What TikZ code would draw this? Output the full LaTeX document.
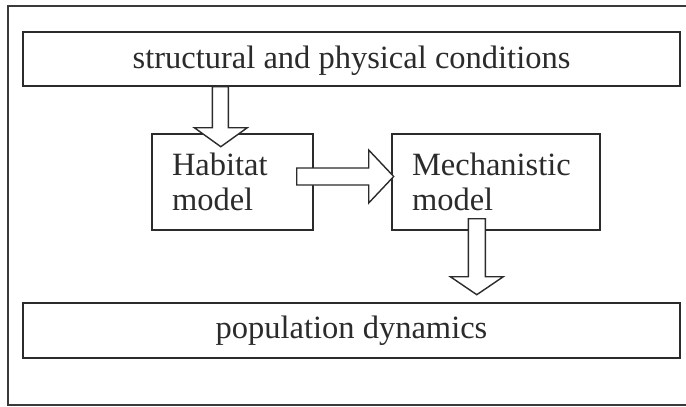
\documentclass[tikz,border=0pt]{standalone}
\usepackage{fontspec}
\setmainfont{Liberation Serif}
\usetikzlibrary{calc}
\definecolor{ink}{HTML}{2B2B2B}
\definecolor{framec}{HTML}{3A3A3A}
\tikzset{
  box/.style={draw=ink, line width=1.4pt, rectangle, inner sep=0pt, text=ink, font=\fontsize{32.5}{35}\selectfont},
  wide/.style={box, minimum width=657pt, minimum height=54pt},
  model/.style={box, minimum height=96pt, align=left},
  blockarrow/.style={draw=ink, fill=white, line width=1.4pt, line join=miter},
  framestyle/.style={draw=framec, line width=1.3pt}
}
\begin{document}
\begin{tikzpicture}[x=1pt, y=-1pt]
\useasboundingbox (0,0) rectangle (686,407);
\draw[framestyle] (686,6) -- (8,6) -- (8,405) -- (686,405);

\node[wide, text depth=3pt] (tb) at (351.5,59) {structural and physical conditions};
\node[model, minimum width=161pt, text width=121pt] (hab) at (232.5,182) {Habitat\\model};
\node[model, minimum width=208pt, text width=168pt] (mech) at (496,182) {Mechanistic\\model};
\node[wide, minimum height=55pt] (pop) at (351.5,330.5) {population dynamics};

% block arrows
\coordinate (a1) at ($(tb.south west)+(198,0)$);
\draw[blockarrow] (a1) ++(-8,0) -- ++(0,41) -- ++(-18,0) -- ++(26.5,19) -- ++(26.5,-19) -- ++(-19,0) -- ++(0,-41) -- cycle;

\coordinate (a2) at ($(hab.east)+(-17,-5.5)$);
\draw[blockarrow] (a2) ++(0,-8.5) -- ++(72,0) -- ++(0,-18) -- ++(25,26.5) -- ++(-25,26.5) -- ++(0,-18) -- ++(-72,0) -- cycle;

\coordinate (a3) at ($(mech.south west)+(85.5,-12)$);
\draw[blockarrow] (a3) ++(-8.5,0) -- ++(0,58) -- ++(-18,0) -- ++(26.5,18) -- ++(26.5,-18) -- ++(-18,0) -- ++(0,-58) -- cycle;
\end{tikzpicture}
\end{document}
